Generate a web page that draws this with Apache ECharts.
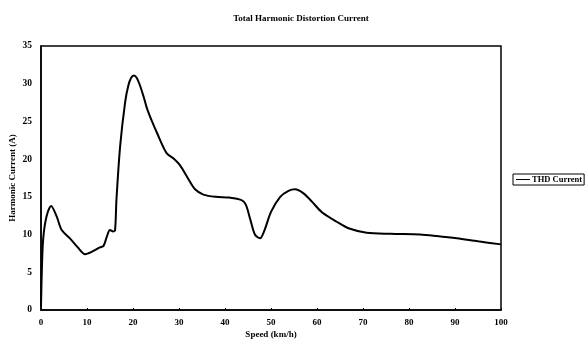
<!DOCTYPE html>
<html>
<head>
<meta charset="utf-8">
<script src="https://cdn.jsdelivr.net/npm/echarts@6/dist/echarts.min.js"></script>
<style>
  html, body { margin: 0; padding: 0; background: #fff; }
  #main { width: 586px; height: 348px; }
</style>
</head>
<body>
<div id="main"></div>
<script>
// speed (km/h) and THD current (A)
var speed = [0, 0.2, 0.5, 1.2, 2.2, 3.4, 4.5, 6.3, 8, 9.6, 11, 12.8, 13.6, 14.3, 15, 15.7, 16.1, 16.4,
  17.2, 18.3, 19, 19.6, 20.2, 20.8, 21.5, 22.3, 23, 24, 25.2, 27.3, 29, 30.2, 32, 33.5, 35.3, 38, 41, 43.5, 44.5,
  45.5, 46.5, 47.6, 48.6, 50, 52, 53.8, 55.2, 57, 59, 61, 64.3, 67, 70.8, 76, 82.4, 86, 90.4, 95, 100];
var thd = [0.5, 5.7, 9.6, 12.4, 13.8, 12.4, 10.6, 9.5, 8.3, 7.4, 7.7, 8.3, 8.5, 9.7, 10.6, 10.4, 10.6, 14.6,
  21.7, 27.6, 29.8, 30.8, 31.1, 30.8, 29.8, 28.3, 26.8, 25.2, 23.5, 20.8, 20.0, 19.2, 17.4, 16.0, 15.3, 15.0, 14.9, 14.6, 14.0,
  12.0, 10.0, 9.5, 10.6, 13.0, 15.0, 15.8, 16.0, 15.5, 14.3, 13.0, 11.7, 10.8, 10.25, 10.1, 10.0, 9.8, 9.5, 9.1, 8.7];
var seriesName = 'THD Current';

var points = speed.map(function (s, i) { return [s, thd[i]]; });

var font = 'Liberation Serif';
var chart = echarts.init(document.getElementById('main'));
chart.setOption({
  animation: false,
  title: {
    text: 'Total Harmonic Distortion Current',
    left: 296, top: 9, textAlign: 'center',
    textStyle: { fontFamily: font, fontSize: 9, fontWeight: 'bold', color: '#000' }
  },
  legend: {
    data: [seriesName],
    left: 513, top: 174,
    orient: 'vertical',
    borderColor: '#000', borderWidth: 1, borderRadius: 0,
    padding: [1, 2, 1, 3],
    itemWidth: 14, itemHeight: 8, itemGap: 0,
    icon: 'path://M0,4 L14,4 L14,5 L0,5 Z',
    textStyle: { fontFamily: font, fontSize: 8.5, fontWeight: 'bold', color: '#000', padding: [0, 0, 0, -3] }
  },
  grid: {
    left: 41, right: 85, top: 46, bottom: 38,
    outerBoundsMode: 'none',
    containLabel: false,
    show: true, borderColor: '#000', borderWidth: 1.5, backgroundColor: 'transparent'
  },
  xAxis: {
    type: 'value', min: 0, max: 100, interval: 10,
    name: 'Speed (km/h)', nameLocation: 'middle', nameGap: 20,
    nameMoveOverlap: false,
    nameTextStyle: { fontFamily: font, fontSize: 9, fontWeight: 'bold', color: '#000' },
    axisLine: { lineStyle: { color: '#000', width: 1.5 } },
    axisTick: { inside: true, length: 2, lineStyle: { color: '#000' } },
    axisLabel: { fontFamily: font, fontSize: 9, fontWeight: 'bold', color: '#000', margin: 8 },
    splitLine: { show: false }
  },
  yAxis: {
    type: 'value', min: 0, max: 35, interval: 5,
    name: 'Harmonic Current (A)', nameLocation: 'middle', nameGap: 24, nameRotate: 90,
    nameMoveOverlap: false,
    nameTextStyle: { fontFamily: font, fontSize: 9, fontWeight: 'bold', color: '#000' },
    axisLine: { lineStyle: { color: '#000', width: 1.5 } },
    axisTick: { show: false },
    axisLabel: { fontFamily: font, fontSize: 9.5, fontWeight: 'bold', color: '#000', margin: 9 },
    splitLine: { show: false }
  },
  series: [{
    name: seriesName,
    type: 'line',
    data: points,
    smooth: 0.3,
    showSymbol: false,
    lineStyle: { color: '#000', width: 2 },
    itemStyle: { color: '#000' }
  }]
});
</script>
</body>
</html>
